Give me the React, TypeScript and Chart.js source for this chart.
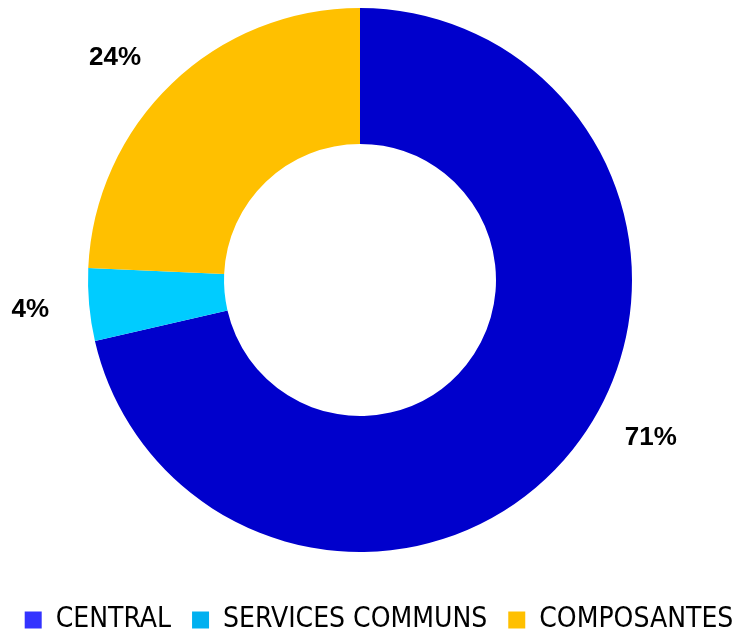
import React, { useEffect, useRef } from "react";
import { Chart, registerables } from "chart.js";

Chart.register(...registerables);

const categories = ["CENTRAL", "SERVICES COMMUNS", "COMPOSANTES"];
const shares = [71.4, 4.3, 24.3];
const displayLabels = ["71%", "4%", "24%"];
const sliceColors = ["#0000CC", "#00CCFF", "#FFC000"];
const legendColors = ["#3333FF", "#00B0F0", "#FFC000"];
const labelAngleNudgeDeg = [-10, 0, -4];

const outsideLabels = {
  id: "outsideLabels",
  afterDatasetsDraw(chart: any) {
    const ctx = chart.ctx;
    const meta = chart.getDatasetMeta(0);
    ctx.save();
    ctx.font = "bold 26px 'Liberation Sans', Arial, sans-serif";
    ctx.fillStyle = "#000000";
    ctx.textAlign = "center";
    ctx.textBaseline = "middle";
    meta.data.forEach((arc: any, i: number) => {
      const { x, y, startAngle, endAngle, outerRadius } = arc.getProps(
        ["x", "y", "startAngle", "endAngle", "outerRadius"],
        true
      );
      const mid = (startAngle + endAngle) / 2 + (labelAngleNudgeDeg[i] * Math.PI) / 180;
      const r = outerRadius + 59;
      ctx.fillText(displayLabels[i], x + Math.cos(mid) * r, y + Math.sin(mid) * r);
    });
    ctx.restore();
  },
};

const legendShift = {
  id: "legendShift",
  afterLayout(chart: any, _args: any, opts: any) {
    const lg = chart.legend;
    if (!lg || !opts) return;
    const dx = opts.dx || 0;
    const dy = opts.dy || 0;
    lg.left += dx;
    lg.right += dx;
    lg.top += dy;
    lg.bottom += dy;
  },
};

export default function App() {
  const ref = useRef<HTMLCanvasElement | null>(null);
  useEffect(() => {
    document.body.style.margin = "0";
    if (!ref.current) return;
    const chart = new Chart(ref.current, {
      type: "doughnut",
      data: {
        labels: categories,
        datasets: [
          {
            data: shares,
            backgroundColor: sliceColors,
            borderWidth: 0,
          },
        ],
      },
      options: {
        animation: false,
        responsive: false,
        cutout: "50%",
        layout: { padding: { top: 8, left: -36, right: 18, bottom: 0 } },
        plugins: {
          tooltip: { enabled: false },
          legend: {
            display: true,
            position: "bottom",
            align: "center",
            title: { display: true, text: "", font: { size: 10 }, padding: { top: 10, bottom: 0 } },
            labels: {
              boxWidth: 17,
              boxHeight: 17,
              padding: 21,
              color: "#000000",
              font: { family: "'DejaVu Sans Condensed', 'DejaVu Sans', sans-serif", size: 28 },
              generateLabels: () =>
                categories.map((c, i) => ({
                  text: c,
                  fillStyle: legendColors[i],
                  strokeStyle: legendColors[i],
                  lineWidth: 0,
                  hidden: false,
                  index: i,
                  fontColor: "#000000",
                })),
            },
          },
          legendShift: { dx: 37, dy: 11 },
        } as any,
      },
      plugins: [outsideLabels, legendShift],
    });
    return () => chart.destroy();
  }, []);
  return (
    <div style={{ width: 738, height: 633, background: "#ffffff" }}>
      <canvas ref={ref} width={738} height={633} style={{ display: "block" }} />
    </div>
  );
}
